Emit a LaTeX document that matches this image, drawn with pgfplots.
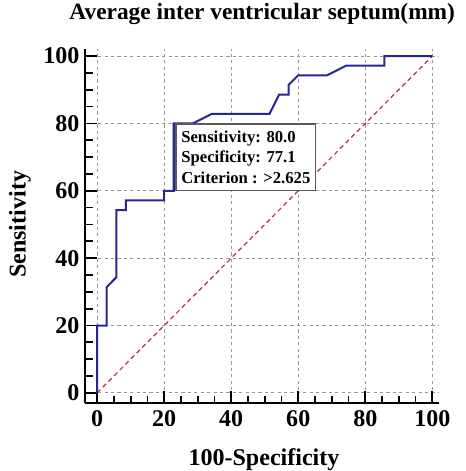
\documentclass[border=0pt]{standalone}
\usepackage{pgfplots}
\pgfplotsset{compat=1.18}
\usepackage{fontspec}
\setmainfont{Liberation Serif}
\definecolor{roc}{RGB}{38,38,150}
\definecolor{diag}{RGB}{165,55,70}
\definecolor{gridc}{RGB}{150,150,150}
\definecolor{boxc}{RGB}{90,90,90}
\begin{document}
\begin{tikzpicture}
\begin{axis}[
  scale only axis,
  width=265pt, height=265pt,
  xmin=-3.5, xmax=102, ymin=-3, ymax=102,
  axis x line=bottom, axis y line=left,
  axis line style={line width=1.5pt,-},
  xtick={0,20,...,100}, ytick={0,20,...,100},
  minor tick num=3,
  tick align=inside,
  major tick length=9pt, minor tick length=5.5pt,
  every tick/.style={black, line width=1.3pt},
  grid=major,
  major grid style={gridc, line width=0.7pt, dash pattern=on 2.4pt off 2.4pt},
  /pgf/number format/assume math mode=true,
  ticklabel style={font=\bfseries\fontsize{18}{20}\selectfont},
  xticklabel style={yshift=-2pt},
  yticklabel style={xshift=-1pt},
  title={Average inter ventricular septum(mm)},
  title style={font=\bfseries\fontsize{17.5}{20}\selectfont, inner sep=0pt, at={(rel axis cs:0.5,1.077)}, anchor=center, yshift=0pt},
  xlabel={100-Specificity},
  xlabel style={font=\bfseries\fontsize{18}{20}\selectfont, inner sep=0pt, at={(rel axis cs:0.505,-0.16)}, anchor=center},
  ylabel={Sensitivity},
  ylabel style={font=\bfseries\fontsize{18}{20}\selectfont, inner sep=0pt, at={(rel axis cs:-0.185,0.505)}, anchor=center},
  clip=false,
]
\path (rel axis cs:-0.2414,-0.1923) rectangle (rel axis cs:1.0744,1.1394);
\addplot[diag, line width=0.9pt, dash pattern=on 3.5pt off 2.5pt] coordinates {(0,0) (100,100)};
\addplot[roc, line width=1.5pt] coordinates {
(0,0) (0,20) (2.86,20) (2.86,31.43) (5.71,34.29) (5.71,54.29) (8.57,54.29) (8.57,57.14)
(20,57.14) (20,60) (22.86,60) (22.86,80) (28.57,80) (34.29,82.86) (51.43,82.86)
(54.29,88.57) (57.14,88.57) (57.14,91.43) (60,94.29) (68.57,94.29) (74.29,97.14)
(85.71,97.14) (85.71,100) (100,100)};
\node[draw=boxc, line width=1.1pt, fill=white, anchor=north west, align=left,
  inner xsep=4pt, inner ysep=5pt,
  font=\bfseries\fontsize{12.5}{15.4}\selectfont]
  at (axis cs:23.3,80) {Sensitivity: 80.0\\Specificity: 77.1\\Criterion : >2.625\hspace{3pt}};
\end{axis}
\end{tikzpicture}
\end{document}
